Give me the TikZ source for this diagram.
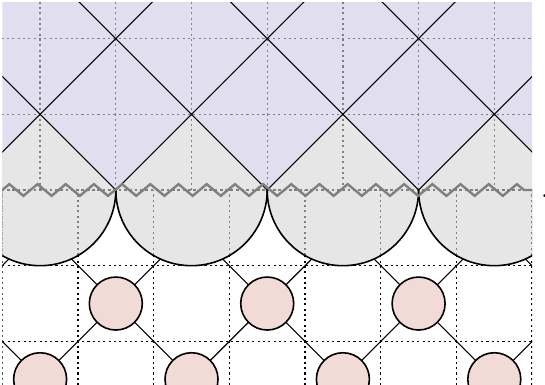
\documentclass[tikz,border=0pt]{standalone}
\usepackage{tikz}
\usetikzlibrary{decorations.pathmorphing}
\definecolor{bulkblue}{RGB}{225,223,239}
\definecolor{cutgrey}{RGB}{230,230,230}
\definecolor{sitepink}{RGB}{242,218,214}

\begin{document}
\begin{tikzpicture}[scale=1.0,
		site/.style={circle, draw, semithick, fill=sitepink, minimum size=0.7cm, inner sep=0pt},
		dots/.style={line width=0.5pt, dash pattern=on 0.8pt off 1.2pt},
		fine/.style={dots, gray}]
	\useasboundingbox (-0.53, -2.576) rectangle (6.67, 2.51);
	\begin{scope}
		\clip (-0.5, -2.6) rectangle (6.5, 2.48);

		% boundary lattice: dotted grid and bonds
		\draw [dots, xshift=0.5cm] (-1, -3) grid (6, 0);
		\foreach \c in {-2.5, -0.5, ..., 8.5} {
			\draw (\c, 0) -- (\c+3, -3);
			\draw (\c+1, 0) -- (\c-2, -3);
		}

		% bulk region and the cut-off discs
		\fill [bulkblue] (-0.5, 0) rectangle (6.5, 2.5);
		\foreach \k in {0, 2, 4, 6}
			\fill [cutgrey] (\k-1, 0) -- (\k, 1) -- (\k+1, 0) arc [start angle=0, end angle=-180, radius=1] -- cycle;
		\draw [fine] (-1, 0) grid (7, 2.5);
		\begin{scope}
			\clip (0, 0) circle [radius=1] (2, 0) circle [radius=1] (4, 0) circle [radius=1] (6, 0) circle [radius=1];
			\draw [fine, xshift=0.5cm] (-1, -1) grid (6, 0);
		\end{scope}
		\foreach \k in {0, 2, 4, 6}
			\draw [semithick] (\k+1, 0) arc [start angle=0, end angle=-180, radius=1];

		% light-cone lines above the cut
		\foreach \c in {-3, -1, ..., 9} {
			\draw (\c, 0) -- (\c-2.5, 2.5);
			\draw (\c, 0) -- (\c+2.5, 2.5);
		}

		% the cut itself
		\draw [gray, line width=0.9pt, decorate, decoration={zigzag, amplitude=2.2pt, segment length=10.6pt}] (-0.5, 0) -- (6.5, 0);

		% sites
		\foreach \k in {0, 1, 2} \node [site] (s\k) at (2*\k+1, -1.5) {};
		\foreach \k in {0, 1, 2, 3} \node [site] (t\k) at (2*\k, -2.5) {};
	\end{scope}
	\node [anchor=base west, inner sep=0pt] (stop) at (6.61, -0.105) {.};
\end{tikzpicture}
\end{document}
